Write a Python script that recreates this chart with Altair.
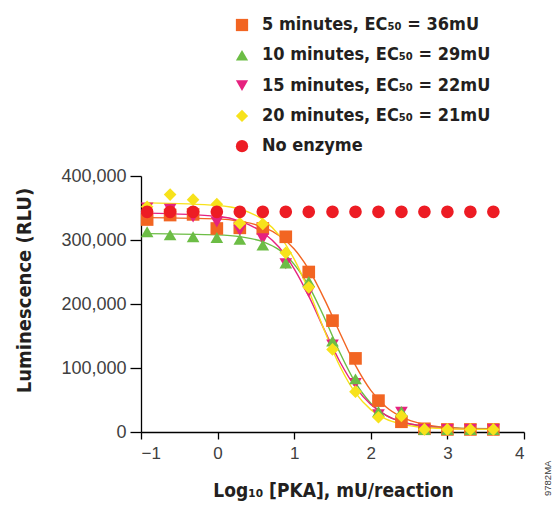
import altair as alt
import pandas as pd

# ---------------- data ----------------
series = [
    "5 minutes, EC₅₀ = 36mU",
    "10 minutes, EC₅₀ = 29mU",
    "15 minutes, EC₅₀ = 22mU",
    "20 minutes, EC₅₀ = 21mU",
    "No enzyme",
]
colors = ["#F26522", "#6CBD45", "#E6227F", "#F7E21B", "#ED1C24"]
shapes = ["square", "triangle-up", "triangle-down", "diamond", "circle"]
draw_order = [0, 2, 1, 3, 4]

# log10 [PKA] of the measured points
x_points = [-0.92, -0.62, -0.32, -0.01, 0.29, 0.59, 0.89, 1.19,
            1.50, 1.80, 2.10, 2.40, 2.70, 3.00, 3.30, 3.60]

# luminescence (RLU, thousands)
pts_5 = [332, 339, 340, 318, 319, 318, 305, 250, 174, 115, 49, 16, 5, 4, 4, 4]
pts_10 = [313, 308, 305, 304, 301, 292, 264, 235, 142, 83, 32, 32, 4, 4, 4, 4]
pts_15 = [350, 348, 336, 328, 315, 302, 263, 219, 136, 76, 27, 31, 4, 4, 4, 4]
pts_20 = [352, 371, 363, 356, 326, 325, 280, 226, 129, 63, 23, 25, 4, 4, 4, 4]
pts_none = [344, 344, 344, 344, 344, 344, 344, 344, 344, 344, 344, 344, 344, 344, 344, 344]

# fitted curves (thousands)
curve_x = [-0.92, 0.0, 0.3, 0.6, 0.8, 1.0, 1.2, 1.4, 1.6, 1.8,
           2.0, 2.2, 2.4, 2.7, 3.0, 3.3, 3.6]
curve_5 = [335, 333, 329, 320, 307, 286, 252, 206, 154, 104, 65, 39, 23.5, 11.7, 7, 5.1, 4.4]
curve_10 = [310, 308, 305, 297, 285, 262, 226, 177, 123, 77, 45, 26, 16, 8.7, 6.3, 5.5, 5.2]
curve_15 = [342, 337, 329, 311, 289, 255, 210, 158, 109, 70, 43, 26, 16, 8.9, 5.9, 4.8, 4.3]
curve_20 = [358, 354, 348, 331, 308, 270, 218, 157, 102, 61, 35, 20, 12.4, 7, 5.1, 4.4, 4.1]

y_ticks = [0, 100000, 200000, 300000, 400000]
x_ticks = [-1, 0, 1, 2, 3, 4]

# ---------------- tables ----------------
pt_rows = []
for s, vals, z in zip(series, [pts_5, pts_10, pts_15, pts_20, pts_none], draw_order):
    for xv, yv in zip(x_points, vals):
        pt_rows.append({"series": s, "x": xv, "y": yv * 1000, "z": z})
pts_df = pd.DataFrame(pt_rows)

cv_rows = []
for s, vals in zip(series[:4], [curve_5, curve_10, curve_15, curve_20]):
    for xv, yv in zip(curve_x, vals):
        cv_rows.append({"curve": s, "x": xv, "y": yv * 1000})
cv_df = pd.DataFrame(cv_rows)

LABEL_FONT = "Liberation Sans"
BOLD_FONT = "Liberation Sans Narrow, DejaVu Sans Condensed, Arial Narrow, sans-serif"

x_scale = alt.Scale(domain=[-1, 4], nice=False, zero=False)
y_scale = alt.Scale(domain=[0, 400000], nice=False)

x_enc = alt.X(
    "x:Q", scale=x_scale,
    axis=alt.Axis(
        values=x_ticks, format="d", grid=False, tickSize=7, labelPadding=6,
        labelFont=LABEL_FONT, labelFontSize=17, labelColor="#404040",
        domainColor="#000000", tickColor="#000000", domainWidth=1.3, tickWidth=1.3,
        title="Log₁₀ [PKA], mU/reaction", titleFont=BOLD_FONT, titleFontSize=19,
        titleFontWeight="bold", titleColor="#231F20",
        titleX=192, titleY=64, titleBaseline="alphabetic", titleAnchor="middle",
    ),
)
y_enc = alt.Y(
    "y:Q", scale=y_scale,
    axis=alt.Axis(
        values=y_ticks, format=",.0f", grid=False, tickSize=11, labelPadding=4,
        labelFont=LABEL_FONT, labelFontSize=18, labelColor="#404040",
        domainColor="#000000", tickColor="#000000", domainWidth=1.3, tickWidth=1.3,
        title="Luminescence (RLU)", titleFont=BOLD_FONT, titleFontSize=20,
        titleFontWeight="bold", titleColor="#231F20",
        titleX=-117, titleY=114, titleBaseline="middle", titleAngle=270,
    ),
)

legend = alt.Legend(
    title=None, orient="none", legendX=92, legendY=-160, padding=0,
    labelFont=BOLD_FONT, labelFontSize=18, labelFontWeight="bold",
    labelColor="#231F20", symbolSize=150, symbolStrokeWidth=0,
    rowPadding=12.3, labelOffset=11, labelLimit=400,
)
color_enc = alt.Color("series:N", scale=alt.Scale(domain=series, range=colors),
                      sort=series, legend=legend)
shape_enc = alt.Shape("series:N", scale=alt.Scale(domain=series, range=shapes),
                      sort=series, legend=legend)

lines = alt.Chart(cv_df).mark_line(interpolate="monotone", strokeWidth=1.4).encode(
    x=x_enc, y=y_enc,
    stroke=alt.Stroke("curve:N", scale=alt.Scale(domain=series[:4], range=colors[:4]),
                      legend=None),
    detail="curve:N",
)

points = alt.Chart(pts_df).mark_point(filled=True, opacity=1, size=160, strokeWidth=0).encode(
    x=x_enc, y=y_enc, color=color_enc, shape=shape_enc, order="z:Q",
)

code = alt.Chart(pd.DataFrame({"t": ["9782MA"]})).mark_text(
    angle=270, align="left", baseline="middle", font=LABEL_FONT,
    fontSize=9.5, color="#404040",
).encode(text="t:N", x=alt.value(407), y=alt.value(320))

chart = alt.layer(lines, points, code).properties(
    width=383, height=256,
    autosize=alt.AutoSizeParams(type="none"),
    padding={"left": 133, "top": 168, "right": 28, "bottom": 72},
).configure_view(stroke=None)

chart.save("out.html", embed_options={"renderer": "svg", "actions": False})
